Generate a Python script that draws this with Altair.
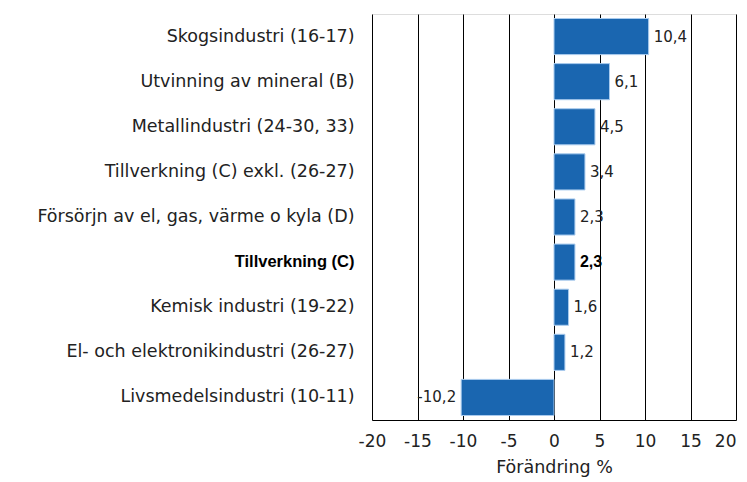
import altair as alt
import pandas as pd

categories = [
    "Skogsindustri (16-17)",
    "Utvinning av mineral (B)",
    "Metallindustri (24-30, 33)",
    "Tillverkning (C) exkl. (26-27)",
    "Försörjn av el, gas, värme o kyla (D)",
    "Tillverkning (C)",
    "Kemisk industri (19-22)",
    "El- och elektronikindustri (26-27)",
    "Livsmedelsindustri (10-11)",
]
values = [10.4, 6.1, 4.5, 3.4, 2.3, 2.3, 1.6, 1.2, -10.2]
x_ticks = [-20, -15, -10, -5, 0, 5, 10, 15, 20]
highlight = "Tillverkning (C)"

df = pd.DataFrame({"cat": categories, "v": values})
df["lbl"] = [f"{v:.1f}".replace(".", ",") for v in values]

FONT = "DejaVu Sans"
BFONT = "Liberation Sans"

x = alt.X("v:Q",
          scale=alt.Scale(domain=[-20, 20], nice=False, zero=False),
          axis=alt.Axis(values=x_ticks, title="Förändring %", grid=True,
                        gridColor="black", gridOpacity=1, gridWidth=1,
                        domainColor="black", ticks=False, labelPadding=13,
                        labelExpr="replace(datum.label, '\u2212', '-')",
                        labelAlign=alt.expr("datum.value == 20 ? 'right' : 'center'"),
                        labelFontSize=17, labelColor="#222", labelFont=FONT,
                        titleFont=FONT, titleFontSize=17.5, titleFontWeight="normal",
                        titleColor="#222", titlePadding=9, labelFlush=False))
y = alt.Y("cat:N", sort=None,
          scale=alt.Scale(paddingInner=0.2, paddingOuter=0.1),
          axis=alt.Axis(title=None, ticks=False, domain=False, labelPadding=18,
                        labelFontSize=alt.expr(f"datum.value == '{highlight}' ? 16.5 : 17.5"),
                        labelColor=alt.expr(f"datum.value == '{highlight}' ? '#000' : '#222'"),
                        labelFont=alt.expr(f"datum.value == '{highlight}' ? '{BFONT}' : '{FONT}'"),
                        labelLimit=400,
                        labelFontWeight=alt.expr(f"datum.value == '{highlight}' ? 'bold' : 'normal'")))

base = alt.Chart(df)
bars = base.mark_bar(color="#1a66b0", stroke="#a9cbee", strokeWidth=1).encode(x=x, y=y)

pos = base.transform_filter(f"datum.v >= 0 && datum.cat != '{highlight}'").mark_text(
    align="left", dx=5, fontSize=15, font=FONT, color="#222").encode(
    x="v:Q", y=alt.Y("cat:N", sort=None), text="lbl:N")
posb = base.transform_filter(f"datum.cat == '{highlight}'").mark_text(
    align="left", dx=5, fontSize=16, font=BFONT, fontWeight="bold", color="black").encode(
    x="v:Q", y=alt.Y("cat:N", sort=None), text="lbl:N")
neg = base.transform_filter("datum.v < 0").mark_text(
    align="right", dx=-5, fontSize=15, font=FONT, color="#222").encode(
    x="v:Q", y=alt.Y("cat:N", sort=None), text="lbl:N")

chart = alt.layer(bars, pos, posb, neg).properties(
    width=364, height=406,
    autosize=alt.AutoSizeParams(type="none"),
    padding={"left": 364, "top": 6, "right": 3, "bottom": 60},
).configure_view(stroke="black", strokeWidth=1.5).configure(background="white")

chart.save("out.html", embed_options={"renderer": "svg", "actions": False})
